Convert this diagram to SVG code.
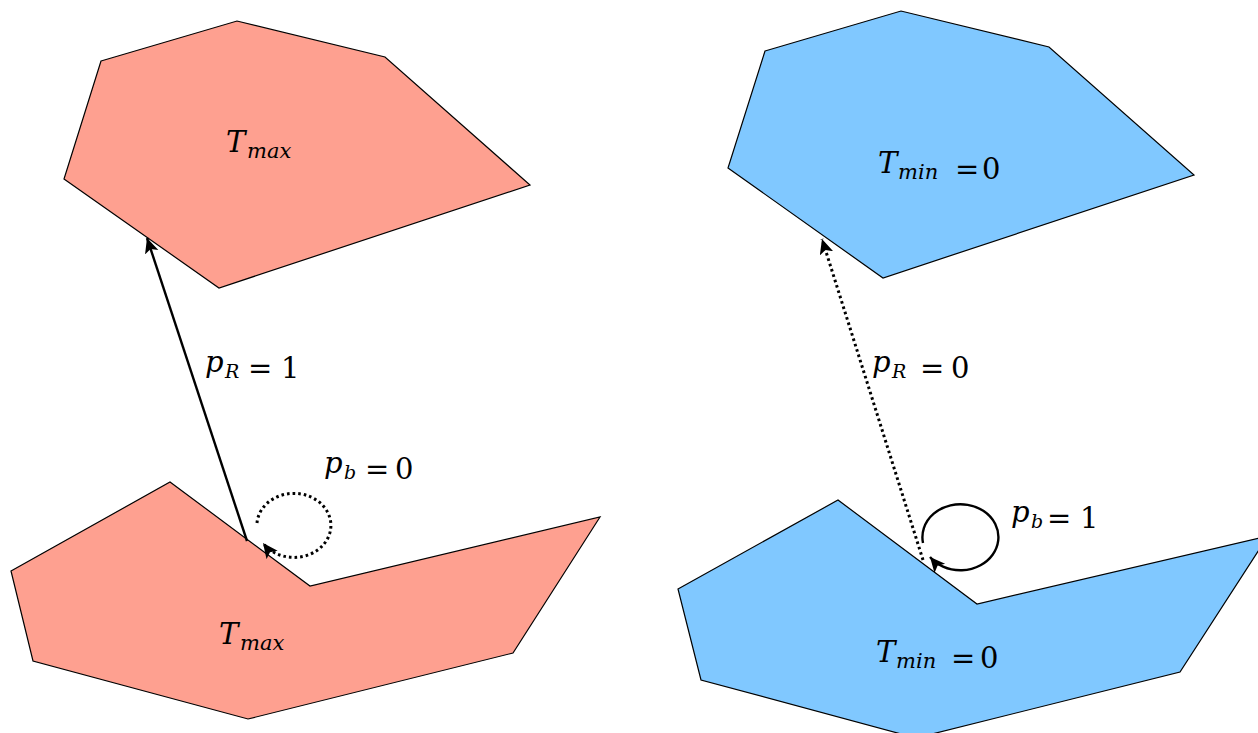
<svg xmlns="http://www.w3.org/2000/svg" width="1258" height="733" viewBox="0 0 1258 733">
<style>
.red{fill:#fea090;stroke:#000;stroke-width:1.2;stroke-linejoin:miter}
.blue{fill:#80c8ff;stroke:#000;stroke-width:1.2;stroke-linejoin:miter}
.lbl{font-family:"DejaVu Serif","Liberation Serif",serif;font-size:29px;fill:#000}
.it{font-style:italic}
.sub{font-style:italic;font-size:19px}
.tsub{font-style:italic;font-size:21px}
.solid{fill:none;stroke:#000;stroke-width:2.4}
.dot{fill:none;stroke:#000;stroke-width:3;stroke-dasharray:2.6 3}
</style>
<defs>
<marker id="ah" markerUnits="userSpaceOnUse" markerWidth="18" markerHeight="16" refX="15" refY="7" orient="auto">
<path d="M0,0 L15,7 L0,14 L3.5,7 Z" fill="#000"/>
</marker>
</defs>
<rect width="1258" height="733" fill="#fff"/>
<g id="left-top">
<polygon class="red" points="101,61 237,21 385,57 530,185 219,288 64,179"/>
<text class="lbl" x="226" y="152"><tspan class="it">T</tspan><tspan class="tsub" x="247" y="158">max</tspan></text>
</g>
<g id="left-bottom">
<polygon class="red" points="11,571 170,482 310,586 600,517 513,653 248,719 33,661"/>
<text class="lbl" x="219" y="644"><tspan class="it">T</tspan><tspan class="tsub" x="240" y="650">max</tspan></text>
</g>
<g id="right-top">
<polygon class="blue" points="765,51 901,11 1049,47 1194,175 883,278 728,168"/>
<text class="lbl" x="878" y="173"><tspan class="it">T</tspan><tspan class="tsub" x="898" y="179">min</tspan><tspan x="955">=</tspan><tspan x="982">0</tspan></text>
</g>
<g id="right-bottom">
<polygon class="blue" points="678,589 838,500 977,604 1268,536 1180,672 916,738 701,680"/>
<text class="lbl" x="876" y="662"><tspan class="it">T</tspan><tspan class="tsub" x="896" y="668">min</tspan><tspan x="951">=</tspan><tspan x="980">0</tspan></text>
</g>
<g id="connectors">
<path class="solid" d="M247,541 L147,238" marker-end="url(#ah)"/>
<path class="dot" d="M923,560 L822,239" marker-end="url(#ah)"/>
<path class="dot" d="M257,523 A37,32 0 1 1 263,543" marker-end="url(#ah)"/>
<path class="solid" d="M923,543 A38,33 0 1 1 930,557" marker-end="url(#ah)"/>
</g>
<g id="labels">
<text class="lbl" x="205" y="372"><tspan class="it">p</tspan><tspan class="sub" x="225" y="378">R</tspan><tspan x="248">=</tspan><tspan x="281">1</tspan></text>
<text class="lbl" x="872" y="372"><tspan class="it">p</tspan><tspan class="sub" x="892" y="378">R</tspan><tspan x="920">=</tspan><tspan x="951">0</tspan></text>
<text class="lbl" x="324" y="473"><tspan class="it">p</tspan><tspan class="sub" x="344" y="479">b</tspan><tspan x="365">=</tspan><tspan x="395">0</tspan></text>
<text class="lbl" x="1011" y="522"><tspan class="it">p</tspan><tspan class="sub" x="1031" y="528">b</tspan><tspan x="1047">=</tspan><tspan x="1080">1</tspan></text>
</g>
</svg>
